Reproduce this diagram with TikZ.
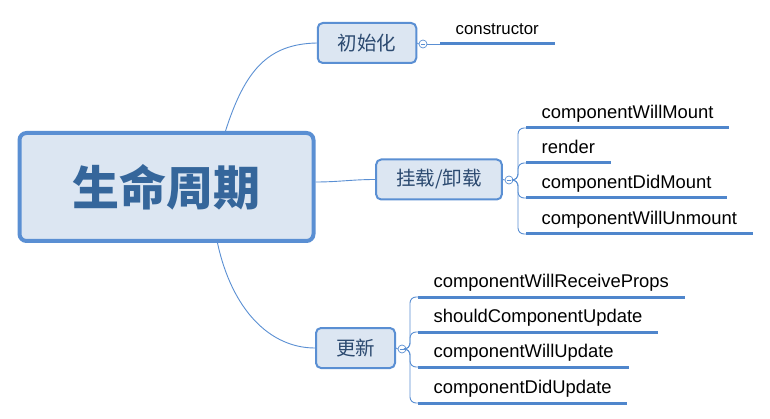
\documentclass[tikz,border=0pt]{standalone}
\usepackage{fontspec}
\setmainfont{Liberation Sans}
\newfontfamily\cjk{Noto Sans CJK SC}
\usetikzlibrary{positioning,calc}
\definecolor{mapblue}{HTML}{5A8FD3}
\definecolor{mapfill}{HTML}{DCE6F2}
\definecolor{maptext}{HTML}{35669B}
\definecolor{subtext}{HTML}{2C4A70}
\definecolor{leafblue}{HTML}{4F86CC}

\begin{document}
\begin{tikzpicture}[x=1pt,y=-1pt,
    topic/.style={draw=mapblue,fill=mapfill,line width=4pt,rounded corners=7pt,minimum width=294pt,minimum height=108pt,text=maptext,font=\cjk\bfseries\fontsize{47}{50}\selectfont},
    branch/.style={draw=mapblue,fill=mapfill,line width=2pt,rounded corners=5pt,minimum height=40pt,inner xsep=20pt,text=subtext,font=\cjk\fontsize{19.5}{22}\selectfont},
    fold/.style={circle,draw=mapblue,fill=white,line width=0.7pt,minimum size=8pt,inner sep=0pt,
      path picture={\draw[mapblue,line width=0.6pt] ([xshift=-2pt]path picture bounding box.center) -- ([xshift=2pt]path picture bounding box.center);}},
    leaf/.style={anchor=south west,inner xsep=15.5pt,inner ysep=9pt,text depth=0pt,text height=13pt,font=\fontsize{18.4}{20}\selectfont},
    link/.style={draw=mapblue,line width=0.9pt},
    leafline/.style={draw=leafblue,line width=3pt}
  ]
    \useasboundingbox (0,0) rectangle (770,419);

    % Central topic
    \node[topic] (life) at (166.5,187) {生命周期};

    % Branch: 初始化
    \node[branch] (init) at (367,43) {初始化};
    \node[fold] (fi) at (423,44) {};
    \node[leaf,font=\fontsize{16.8}{18}\selectfont] (ctor) at (440,44) {constructor};
    \draw[link] ([xshift=59pt]life.north) .. controls (245,70) and (268,44) .. (init.west);
    \draw[link] (init.east) -- (fi.west);
    \draw[link] (fi.east) -- (ctor.south west);
    \draw[leafline] (ctor.south west) -- (ctor.south east);

    % Branch: 挂载/卸载
    \node[branch] (mount) at (439,179.5) {挂载/卸载};
    \node[fold] (fm) at (509,180) {};
    \node[leaf] (wm) at (526,128) {componentWillMount};
    \node[leaf] (rd) at (526,163) {render};
    \node[leaf] (dm) at (526,198) {componentDidMount};
    \node[leaf] (wu) at (526,234) {componentWillUnmount};
    \draw[link] ([yshift=5pt]life.east) to[out=0,in=180] (mount.west);
    \draw[link] (mount.east) -- (fm.west);
    \draw[link,rounded corners=6pt] (fm.east) -| ([xshift=-8pt]wm.south west) -- (wm.south west);
    \draw[link,rounded corners=6pt] (fm.east) -| ([xshift=-8pt]rd.south west) -- (rd.south west);
    \draw[link,rounded corners=6pt] (fm.east) -| ([xshift=-8pt]dm.south west) -- (dm.south west);
    \draw[link,rounded corners=6pt] (fm.east) -| ([xshift=-8pt]wu.south west) -- (wu.south west);
    \draw[leafline] (wm.south west) -- (wm.south east);
    \draw[leafline] (rd.south west) -- (rd.south east);
    \draw[leafline] (dm.south west) -- (dm.south east);
    \draw[leafline] (wu.south west) -- (wu.south east);

    % Branch: 更新
    \node[branch] (upd) at (355.5,348) {更新};
    \node[fold] (fu) at (402,349) {};
    \node[leaf] (rp) at (418,297) {componentWillReceiveProps};
    \node[leaf] (sc) at (418,332) {shouldComponentUpdate};
    \node[leaf] (wup) at (418,367) {componentWillUpdate};
    \node[leaf] (dup) at (418,403) {componentDidUpdate};
    \draw[link] ([xshift=51pt]life.south) .. controls (232,310) and (270,348) .. (upd.west);
    \draw[link] (upd.east) -- (fu.west);
    \draw[link,rounded corners=6pt] (fu.east) -| ([xshift=-8pt]rp.south west) -- (rp.south west);
    \draw[link,rounded corners=6pt] (fu.east) -| ([xshift=-8pt]sc.south west) -- (sc.south west);
    \draw[link,rounded corners=6pt] (fu.east) -| ([xshift=-8pt]wup.south west) -- (wup.south west);
    \draw[link,rounded corners=6pt] (fu.east) -| ([xshift=-8pt]dup.south west) -- (dup.south west);
    \draw[leafline] (rp.south west) -- (rp.south east);
    \draw[leafline] (sc.south west) -- (sc.south east);
    \draw[leafline] (wup.south west) -- (wup.south east);
    \draw[leafline] (dup.south west) -- (dup.south east);
  \end{tikzpicture}
\end{document}
